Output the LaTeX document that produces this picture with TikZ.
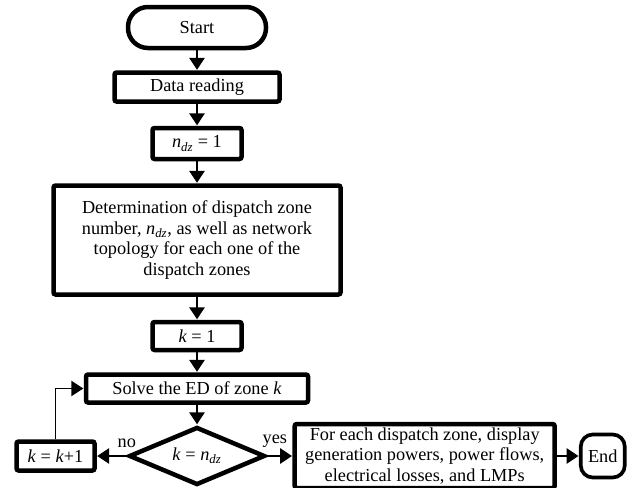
\documentclass[tikz,border=0pt]{standalone}
\usepackage{fontspec}
\setmainfont{Liberation Serif}
\usepackage{tikz}
\usetikzlibrary{arrows.meta,positioning,shapes.geometric}

\newcommand{\ndz}{\textit{n}\textsubscript{\textit{dz}}}
\newcommand{\kk}{\textit{k}}

\begin{document}
\begin{tikzpicture}[
    auto,
    node distance=5mm,
    >={Triangle[length=3mm,width=3.8mm]},
    font=\fontsize{13}{14.8}\selectfont,
    block/.style={
		rectangle,
		rounded corners=1.5pt,
		draw=black,
		line width=3.2pt,
		text centered,
		inner sep=2pt,
		fill=white
	},
	terminal/.style={
		rectangle,
		draw=black,
		line width=3.2pt,
		text centered,
		inner sep=2pt,
		fill=white
	},
	decision/.style={
		diamond,
		draw=black,
		line width=3.2pt,
		aspect=2.3,
		inner sep=0pt,
		minimum width=3.4cm,
		minimum height=1.45cm
	},
	flow/.style={
		draw,
		->,
		line width=1.7pt,
		shorten >=0.3pt
	},
	lbl/.style={
		inner sep=1pt
	}
  ]
  \useasboundingbox (0,0) rectangle (15.85,-12.175);

    % blocks of the main column
  \node [terminal, minimum width=3.45cm, minimum height=1.025cm, rounded corners=0.5cm] (start) at (4.925,-0.6875) {Start};

  \node [block, below=of start, minimum width=4.125cm, minimum height=0.725cm] (read) {Data reading};

  \node [block, below=5.5mm of read, minimum width=2.225cm, minimum height=0.775cm] (ndzone) {\ndz{} = 1};

  \node [block, below=5.5mm of ndzone, minimum width=7.175cm, minimum height=2.725cm, align=center] (topo)
 {Determination of dispatch zone\\
  number, \ndz, as well as network\\
  topology for each one of the\\
  dispatch zones};

  \node [block, below=5.75mm of topo, minimum width=2.225cm, minimum height=0.7cm] (kone) {\kk{} = 1};

  \node [block, below=of kone, minimum width=5.55cm, minimum height=0.7cm] (solve) {Solve the ED of zone \kk};

  \node [decision, below=of solve] (check) {\kk{} = \ndz};

    % side blocks
  \node [block, left=7.5mm of check, minimum width=1.95cm, minimum height=0.725cm] (knext) {\kk{} = \kk+1};

  \node [block, right=6.3mm of check, minimum width=6.5cm, minimum height=1.6cm, align=center] (show)
 {For each dispatch zone, display\\
  generation powers, power flows,\\
  electrical losses, and LMPs};

  \node [terminal, right=5.5mm of show, minimum width=1.1cm, minimum height=1.075cm, rounded corners=0.3cm, line width=2.6pt] (stop) {End};

 \draw [flow] (start) -- (read);
 \draw [flow] (read) -- (ndzone);
 \draw [flow] (ndzone) -- (topo);
 \draw [flow] (topo) -- (kone);
 \draw [flow] (kone) -- (solve);
 \draw [flow] (solve) -- (check);
 \draw [flow] (check) -- node [lbl, pos=0, above=1.5mm] {no} (knext);
 \draw [flow] (check) -- node [lbl, pos=0.3, above=1.5mm] {yes} (show);
 \draw [flow] (show) -- (stop);
 \draw [flow, line width=1.1pt] (knext) |- (solve);

\end{tikzpicture}
\end{document}
